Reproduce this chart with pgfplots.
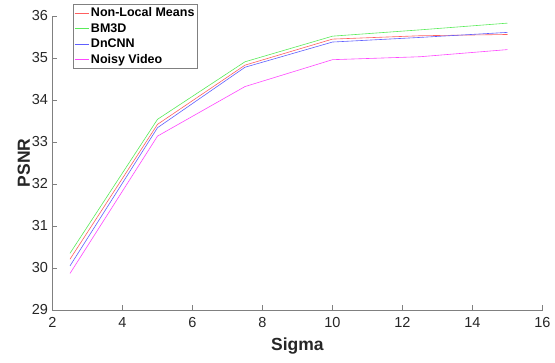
\documentclass[border=0pt]{standalone}
\usepackage{fontspec}
\setmainfont{Liberation Sans}
\usepackage{pgfplots}
\pgfplotsset{compat=1.18}

\definecolor{nlmred}{RGB}{255,95,95}
\definecolor{bmgreen}{RGB}{90,235,90}
\definecolor{dnblue}{RGB}{95,95,255}
\definecolor{noisymag}{RGB}{255,70,255}
\definecolor{axgray}{RGB}{128,128,128}
\definecolor{txt}{RGB}{38,38,38}

\begin{document}
\begin{tikzpicture}
\begin{axis}[
  scale only axis,
  width=490pt, height=294pt,
  xmin=2, xmax=16, ymin=29, ymax=36,
  xtick={2,4,...,16}, ytick={29,30,...,36},
  axis x line*=bottom, axis y line*=left,
  axis line style={axgray, line width=0.6pt},
  tick style={axgray, line width=0.6pt},
  tick align=inside, major tick length=5pt,
  /pgf/number format/assume math mode=true,
  tick label style={font=\fontsize{14.5}{16}\selectfont, text=txt},
  xticklabel style={yshift=-4pt},
  yticklabel style={xshift=-1pt},
  xlabel={\textbf{Sigma}}, ylabel={\textbf{PSNR}},
  label style={font=\fontsize{17.5}{19}\selectfont, text=txt},
  xlabel style={yshift=-3pt},
  ylabel style={yshift=-5pt},
  legend cell align=left,
  legend style={at={(0.042,1.041)}, anchor=north west,
    draw=axgray, line width=0.6pt, fill=white,
    font=\fontsize{12.5}{14}\selectfont\bfseries,
    inner xsep=1pt, inner ysep=1.5pt, row sep=1.2pt},
  legend image code/.code={\draw[#1, line width=0.6pt] (0pt,0pt) -- (14pt,0pt);},
  every axis plot/.append style={line width=0.6pt},
]
\addplot[nlmred] coordinates {(2.5,30.21) (5,33.42) (7.5,34.83) (10,35.45) (12.5,35.53) (15,35.56)};
\addlegendentry{Non-Local Means}
\addplot[bmgreen] coordinates {(2.5,30.35) (5,33.54) (7.5,34.91) (10,35.52) (12.5,35.67) (15,35.83)};
\addlegendentry{BM3D}
\addplot[dnblue] coordinates {(2.5,30.05) (5,33.34) (7.5,34.78) (10,35.38) (12.5,35.49) (15,35.61)};
\addlegendentry{DnCNN}
\addplot[noisymag] coordinates {(2.5,29.87) (5,33.14) (7.5,34.32) (10,34.96) (12.5,35.03) (15,35.20)};
\addlegendentry{Noisy Video}
\end{axis}
\pgfresetboundingbox
\path (current axis.south west) ++(-52.5pt,-52pt) rectangle ++(555pt,362pt);
\end{tikzpicture}
\end{document}
